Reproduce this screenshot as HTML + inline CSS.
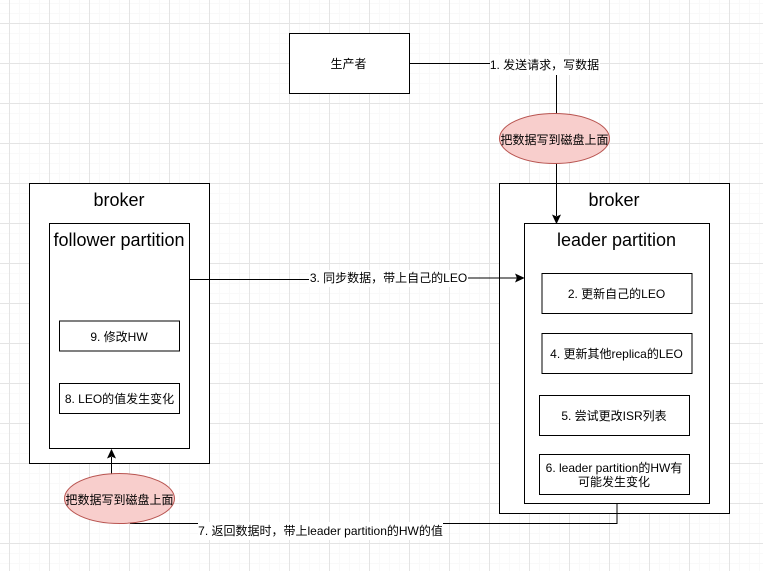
<!DOCTYPE html>
<html>
<head>
<meta charset="utf-8">
<style>
html,body{margin:0;padding:0;background:#fff;width:763px;height:571px;overflow:hidden}
svg{display:block}
text{font-family:"Liberation Sans","Noto Sans CJK SC",sans-serif;fill:#000;text-anchor:middle}
.s{font-size:12px}
.l{font-size:18px}
.box{fill:#fff;stroke:#000;stroke-width:1}
.ln{fill:none;stroke:#000;stroke-width:1}
</style>
</head>
<body>
<svg width="763" height="571" viewBox="0 0 763 571" xmlns="http://www.w3.org/2000/svg">
<defs>
<pattern id="minor" width="10" height="10" patternUnits="userSpaceOnUse" x="9" y="3">
<path d="M0.5 0V10M0 0.5H10" stroke="#f9f9f9" stroke-width="1" fill="none"/>
</pattern>
<pattern id="major" width="40" height="40" patternUnits="userSpaceOnUse" x="9" y="23">
<path d="M0.5 0V40M0 0.5H40" stroke="#e4e4e4" stroke-width="1" fill="none"/>
</pattern>
</defs>
<rect width="763" height="571" fill="#fff"/>
<rect width="763" height="571" fill="url(#minor)"/>
<rect width="763" height="571" fill="url(#major)"/>

<!-- Producer -->
<rect class="box" x="289.5" y="33.5" width="120" height="60"/>
<text class="s" x="348.5" y="68">生产者</text>

<!-- Left broker -->
<rect class="box" x="29.5" y="183.5" width="180" height="280"/>
<text class="l" x="119" y="206">broker</text>
<rect class="box" x="49.5" y="223.5" width="140" height="225"/>
<text class="l" x="119" y="246">follower partition</text>
<rect class="box" x="59.5" y="321" width="120" height="30"/>
<text class="s" x="119" y="341">9. 修改HW</text>
<rect class="box" x="59.5" y="383.5" width="120" height="30"/>
<text class="s" x="119.5" y="403">8. LEO的值发生变化</text>

<!-- Right broker -->
<rect class="box" x="499.5" y="183.5" width="230" height="330"/>
<text class="l" x="614" y="206">broker</text>
<rect class="box" x="524.5" y="223.5" width="185" height="280"/>
<text class="l" x="616.5" y="246">leader partition</text>
<rect class="box" x="542" y="273.5" width="150" height="40"/>
<text class="s" x="616.5" y="298">2. 更新自己的LEO</text>
<rect class="box" x="542" y="333.5" width="150" height="40"/>
<text class="s" x="616.5" y="358">4. 更新其他replica的LEO</text>
<rect class="box" x="539.5" y="395.5" width="150" height="40"/>
<text class="s" x="614" y="420">5. 尝试更改ISR列表</text>
<rect class="box" x="539.5" y="454.5" width="150" height="40"/>
<text class="s" x="614" y="472">6. leader partition的HW有</text>
<text class="s" x="614" y="486">可能发生变化</text>

<!-- Connector 1 -->
<path class="ln" d="M409.5 63.5H556.5V216"/>
<path d="M556.5 223L553 215.5L556.5 217L560 215.5Z" fill="#000" stroke="#000" stroke-width="1"/>
<rect x="490" y="55" width="110" height="20" fill="#fff"/>
<text class="s" x="544.5" y="69">1. 发送请求，写数据</text>

<!-- Connector 3 -->
<path class="ln" d="M189.5 279.5H350"/>
<path class="ln" d="M350 278H517"/>
<path d="M523.5 278L516 274.5L517.5 278L516 281.5Z" fill="#000" stroke="#000" stroke-width="1"/>
<rect x="309" y="270" width="159" height="17" fill="#fff"/>
<text class="s" x="388.5" y="282">3. 同步数据，带上自己的LEO</text>

<!-- Connector 8 up -->
<path class="ln" d="M111.5 474V457"/>
<path d="M111.5 450L108 457.5L111.5 456L115 457.5Z" fill="#000" stroke="#000" stroke-width="1"/>

<!-- Connector 7 -->
<path class="ln" d="M617 503.5V523.5H130"/>
<rect x="198" y="522" width="245" height="18" fill="#fff"/>
<text class="s" x="320.5" y="535">7. 返回数据时，带上leader partition的HW的值</text>

<!-- Ellipses -->
<ellipse cx="554.5" cy="138.5" rx="55" ry="25" fill="#f8cecc" stroke="#b85450"/>
<text class="s" x="554.5" y="144">把数据写到磁盘上面</text>
<ellipse cx="119.5" cy="498.5" rx="55" ry="25" fill="#f8cecc" stroke="#b85450"/>
<text class="s" x="119.5" y="504">把数据写到磁盘上面</text>
</svg>
</body>
</html>
